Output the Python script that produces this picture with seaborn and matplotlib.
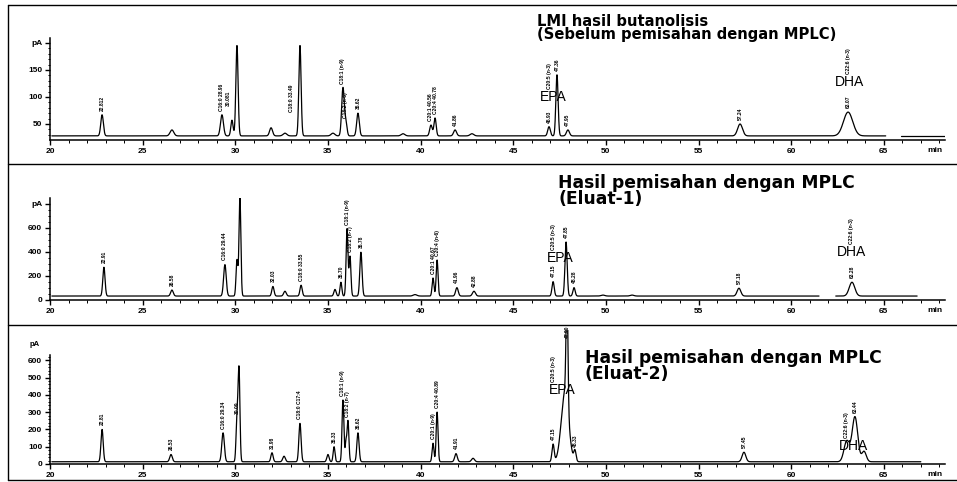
import numpy as np
import pandas as pd
import seaborn as sns
import matplotlib.pyplot as plt
from matplotlib.ticker import MultipleLocator, FixedLocator, FixedFormatter

# peak tables: retention time (min), height above baseline (pA), width (min)
p1_time = [22.81, 26.58, 29.28, 29.82, 30.09, 31.93, 32.68, 33.49, 35.27, 35.81, 35.97, 36.62,
           39.05, 40.56, 40.78, 41.86, 42.77, 46.93, 47.36, 47.95, 57.24, 63.07]
p1_height = [39, 11, 39, 29, 167, 15, 5, 167, 5, 89, 25, 42, 4, 20, 33, 11, 4, 17, 113, 11, 22, 44]
p1_width = [0.07, 0.1, 0.08, 0.06, 0.06, 0.08, 0.1, 0.06, 0.1, 0.07, 0.06, 0.07,
            0.1, 0.07, 0.06, 0.08, 0.1, 0.07, 0.06, 0.08, 0.13, 0.25]
p1_labels = ["22.812", "", "C16:0 28.96", "", "30.081", "", "", "C18:0 33.49", "", "C18:1 (n-9)",
             "C18:2 (n-6)", "36.62", "", "C20:1 40.56", "C20:4 40.78", "41.86", "", "46.93",
             "47.36", "47.95", "57.24", "63.07"]
p1_base = 28
p1_names = ["C20:5 (n-3)", "C22:6 (n-3)"]
p1_name_time = [46.93, 63.07]

p2_time = [22.91, 26.58, 29.44, 30.09, 30.25, 32.03, 32.68, 33.55, 35.38, 35.70, 36.03, 36.19,
           36.78, 39.70, 40.67, 40.89, 41.96, 42.88, 47.15, 47.85, 48.28, 49.84, 51.41, 57.18, 63.28]
p2_height = [240, 50, 262, 300, 820, 80, 40, 90, 55, 115, 560, 330, 365, 12, 150, 300, 70, 40,
             120, 450, 70, 8, 8, 65, 115]
p2_width = [0.06, 0.07, 0.07, 0.05, 0.05, 0.06, 0.07, 0.06, 0.06, 0.05, 0.05, 0.05, 0.06, 0.1,
            0.05, 0.05, 0.07, 0.08, 0.06, 0.06, 0.06, 0.1, 0.1, 0.1, 0.15]
p2_labels = ["22.91", "26.58", "C16:0 29.44", "", "", "32.03", "", "C18:0 33.55", "", "35.70",
             "C18:1 (n-9)", "C18:2 (n-7)", "36.78", "", "C20:1 40.67", "C20:4 (n-6)", "41.96",
             "42.88", "47.15", "47.85", "48.28", "", "", "57.18", "63.28"]
p2_base = 33
p2_names = ["C20:5 (n-3)", "C22:6 (n-3)"]
p2_name_time = [47.15, 63.28]

p3_time = [22.81, 26.53, 29.34, 30.09, 30.20, 31.98, 32.63, 33.49, 35.00, 35.33, 35.81, 35.97,
           36.08, 36.62, 40.67, 40.89, 41.91, 42.83, 47.15, 47.79, 47.90, 48.33, 57.45,
           63.00, 63.44, 63.93]
p3_height = [187, 42, 167, 250, 530, 52, 32, 222, 42, 87, 357, 107, 237, 167, 107, 287, 47, 20,
             100, 400, 690, 60, 55, 120, 260, 60]
p3_width = [0.06, 0.07, 0.07, 0.05, 0.05, 0.06, 0.07, 0.06, 0.06, 0.05, 0.05, 0.04, 0.05, 0.06,
            0.05, 0.05, 0.07, 0.08, 0.06, 0.2, 0.05, 0.06, 0.1, 0.15, 0.15, 0.12]
p3_labels = ["22.81", "26.53", "C16:0 29.34", "30.09", "", "31.98", "", "C18:0 C17:4", "", "35.33",
             "C18:1 (n-9)", "", "C18:2 (n-7)", "36.62", "C20:1 (n-9)", "C20:4 40.89", "41.91", "",
             "47.15", "", "47.90", "48.33", "57.45", "", "63.44", ""]
p3_base = 13
p3_names = ["C20:5 (n-3)", "C22:6 (n-3)"]
p3_name_time = [47.15, 63.00]

titles = ["LMI hasil butanolisis\n(Sebelum pemisahan dengan MPLC)",
          "Hasil pemisahan dengan MPLC\n(Eluat-1)",
          "Hasil pemisahan dengan MPLC\n(Eluat-2)"]

sns.set_style("white")
plt.rcParams['font.family'] = ['Liberation Sans', 'DejaVu Sans']
plt.rcParams['text.color'] = 'black'

W, H = 957, 482
fig = plt.figure(figsize=(W / 100, H / 100), dpi=100)


def px_axes(left, right, top, bottom):
    return fig.add_axes([left / W, 1 - bottom / H, (right - left) / W, (bottom - top) / H])


def trace(times, heights, widths, base, t_end, gaps=()):
    t = np.arange(20.1, t_end, 0.005)
    y = np.full_like(t, float(base))
    for c, h, w in zip(times, heights, widths):
        y += h * np.exp(-0.5 * ((t - c) / w) ** 2)
    seg = np.zeros(len(t), dtype=int)
    keep = np.ones(len(t), dtype=bool)
    for g0, g1 in gaps:
        keep &= ~((t > g0) & (t < g1))
        seg += (t >= g1).astype(int)
    return pd.DataFrame({"t": t[keep], "pA": y[keep], "seg": seg[keep]})


panels = [
    dict(rect=(50, 945, 38, 140), ylim=(20.4, 209), yt=[50, 100, 150, 200],
         ytl=["50", "100", "150", "pA"], ymin=list(range(30, 201, 10)),
         data=(p1_time, p1_height, p1_width, p1_base),
         labels=p1_labels, names=(p1_names, p1_name_time), end=68.3, gaps=[(65.1, 65.9)],
         title_xy=(537, 28), title_size=10.6, epa=(553, 97), dha=(850, 82)),
    dict(rect=(50, 945, 198, 300), ylim=(0, 850), yt=[0, 200, 400, 600, 800],
         ytl=["0", "200", "400", "600", "pA"], ymin=list(range(0, 801, 50)),
         data=(p2_time, p2_height, p2_width, p2_base),
         labels=p2_labels, names=(p2_names, p2_name_time), end=66.8, gaps=[(61.5, 62.4)],
         title_xy=(558, 191), title_size=12.3, epa=(560, 258), dha=(852, 252)),
    dict(rect=(50, 945, 330, 464), ylim=(0, 775), yt=[0, 100, 200, 300, 400, 500, 600],
         ytl=["0", "100", "200", "300", "400", "500", "600"], ymin=list(range(0, 631, 20)),
         data=(p3_time, p3_height, p3_width, p3_base),
         labels=p3_labels, names=(p3_names, p3_name_time), end=67.0, gaps=[],
         title_xy=(585, 366), title_size=12.3, epa=(562, 390), dha=(853, 446),
         spine_top=630),
]

for p, title in zip(panels, titles):
    l, r, tp, bt = p["rect"]
    ax = px_axes(l, r, tp, bt)
    times, heights, widths, base = p["data"]
    df = trace(times, heights, widths, base, p["end"], p["gaps"])
    sns.lineplot(data=df, x="t", y="pA", units="seg", estimator=None, color="black",
                 lw=0.9, ax=ax, legend=False)
    y0, y1 = p["ylim"]
    ax.set_xlim(20, 68.3)
    ax.set_ylim(y0, y1)
    ax.set_xlabel("")
    ax.set_ylabel("")
    ax.patch.set_alpha(0)
    for s in ["top", "right"]:
        ax.spines[s].set_visible(False)
    for s in ["left", "bottom"]:
        ax.spines[s].set_color("black")
        ax.spines[s].set_linewidth(1.1)
    if p.get("spine_top"):
        ax.spines["left"].set_bounds(0, p["spine_top"])
    ax.xaxis.set_major_locator(FixedLocator(list(range(20, 70, 5))))
    ax.xaxis.set_minor_locator(MultipleLocator(1))
    ax.yaxis.set_major_locator(FixedLocator(p["yt"]))
    ax.yaxis.set_major_formatter(FixedFormatter(p["ytl"]))
    ax.yaxis.set_minor_locator(FixedLocator(p["ymin"]))
    ax.tick_params(axis="both", which="major", direction="out", length=3.5, width=1,
                   labelsize=6, pad=2, colors="black", bottom=True, left=True)
    ax.tick_params(axis="both", which="minor", direction="out", length=1.8, width=0.7,
                   colors="black", bottom=True, left=True)
    for lab in ax.get_xticklabels() + ax.get_yticklabels():
        lab.set_fontweight("bold")
    fig.text(935 / W, 1 - (bt + 11) / H, "min", fontsize=6, fontweight="bold",
             ha="center", va="center")

    # retention-time / compound labels over the peaks
    px_per_unit = (bt - tp) / (y1 - y0)
    for c, h, lab in zip(times, heights, p["labels"]):
        if not lab:
            continue
        top = base + h
        if top > 0.92 * y1:
            ax.annotate(lab, (c, 0.5 * top), xytext=(-6, 0), textcoords="offset points",
                        rotation=90, fontsize=3.6, fontweight="bold", ha="center", va="center",
                        annotation_clip=False)
        else:
            ax.annotate(lab, (c, top), xytext=(0, 3), textcoords="offset points",
                        rotation=90, fontsize=3.6, fontweight="bold", ha="center", va="bottom",
                        annotation_clip=False)

    # compound names sit above the EPA / DHA words
    for name, c, (_, wy) in zip(p["names"][0], p["names"][1], [p["epa"], p["dha"]]):
        yv = y0 + (bt - (wy - 8)) / px_per_unit
        ax.annotate(name, (c, yv), rotation=90, fontsize=3.6, fontweight="bold",
                    ha="center", va="bottom", annotation_clip=False)

    fig.text(p["epa"][0] / W, 1 - p["epa"][1] / H, "EPA", fontsize=10, ha="center", va="center")
    fig.text(p["dha"][0] / W, 1 - p["dha"][1] / H, "DHA", fontsize=10, ha="center", va="center")

    tx, ty = p["title_xy"]
    fig.text(tx / W, 1 - ty / H, title, fontsize=p["title_size"], fontweight="bold",
             family="DejaVu Sans", ha="left", va="center", linespacing=0.8)

fig.text(35 / W, 1 - 345 / H, "pA", fontsize=5.5, fontweight="bold", ha="center", va="center")

# frame lines of the scanned page
for yy in [5, 164, 325, 480]:
    fig.add_artist(plt.Line2D([8 / W, 1], [1 - yy / H] * 2, color="black", lw=1.0))
fig.add_artist(plt.Line2D([8 / W] * 2, [1 - 5 / H, 1 - 480 / H], color="black", lw=1.0))

fig.savefig("out.png", dpi=100, facecolor="white")
